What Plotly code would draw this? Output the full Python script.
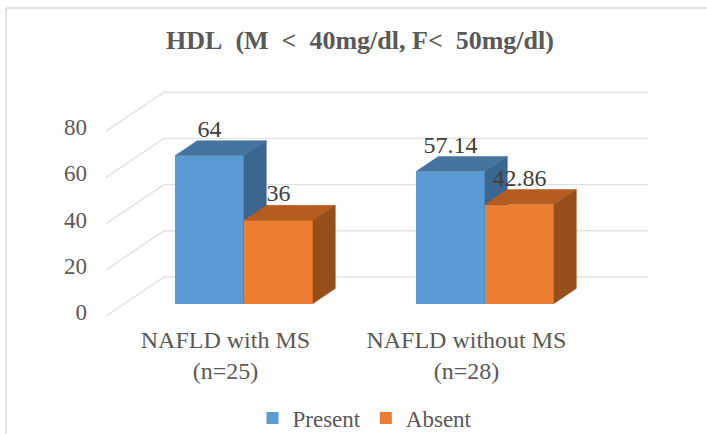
import plotly.graph_objects as go

categories = ["NAFLD with MS<br>(n=25)", "NAFLD without MS<br>(n=28)"]
present = [64, 57.14]
absent = [36, 42.86]
labels_present = ["64", "57.14"]
labels_absent = ["36", "42.86"]
y_ticks = [0, 20, 40, 60, 80]
title = "HDL  (M  <  40mg/dl, F<  50mg/dl)"

W, H = 707, 434
L, R, T, B = 106, 648, 85, 316          # plot area in page pixels
PX_Y = 2.31                             # pixels per value unit
PX_X = 241                              # pixels per category
WALL_DX, WALL_DY = 58 / PX_X, 39 / PX_Y # depth of the floor
FLOOR_FRONT = 0.32                      # bars start this far into the depth
FLOOR_BACK = 0.705
BAR_W = 69 / PX_X
x_range = [(L - 225.4) / PX_X, (R - 225.4) / PX_X]
y_range = [0, (B - T) / PX_Y]
GREY = "#595959"
FONT = "Liberation Serif"


def proj(x, v, d):
    return x + d * WALL_DX, v + d * WALL_DY


def poly(points, color, xa="x", ya="y"):
    xs = [p[0] for p in points] + [points[0][0]]
    ys = [p[1] for p in points] + [points[0][1]]
    return go.Scatter(x=xs, y=ys, mode="lines", fill="toself", fillcolor=color,
                      line=dict(color=color, width=0.5), showlegend=False,
                      hoverinfo="skip", xaxis=xa, yaxis=ya)


def box(cats, vals, side, name, front, top, sidec, xa, ya):
    base = proj(0, 0, FLOOR_FRONT)
    traces = [go.Bar(x=[c + base[0] + side * BAR_W / 2 for c in range(len(cats))],
                     y=vals, base=[base[1]] * len(vals), width=BAR_W, name=name,
                     marker=dict(color=front, line=dict(width=0)),
                     xaxis=xa, yaxis=ya, hoverinfo="y")]
    for i, v in enumerate(vals):
        xl = i + side * BAR_W / 2 - BAR_W / 2
        xr = xl + BAR_W
        traces.append(poly([proj(xl, v, FLOOR_FRONT), proj(xr, v, FLOOR_FRONT),
                            proj(xr, v, FLOOR_BACK), proj(xl, v, FLOOR_BACK)], top, xa, ya))
        traces.append(poly([proj(xr, 0, FLOOR_FRONT), proj(xr, v, FLOOR_FRONT),
                            proj(xr, v, FLOOR_BACK), proj(xr, 0, FLOOR_BACK)], sidec, xa, ya))
    return traces


fig = go.Figure()

# walls: floor/side diagonals and back-wall gridlines
for v in y_ticks:
    p0 = (x_range[0], v)
    p1 = proj(x_range[0], v, 1)
    p2 = (x_range[1], p1[1])
    fig.add_trace(go.Scatter(x=[p0[0], p1[0], p2[0]], y=[p0[1], p1[1], p2[1]], mode="lines",
                             line=dict(color="#E2E2E2", width=1.4), showlegend=False,
                             hoverinfo="skip", cliponaxis=False))

for t in box(categories, present, -1, "Present", "#5B9BD5", "#44749F", "#3A668F", "x2", "y2"):
    fig.add_trace(t)
for t in box(categories, absent, 1, "Absent", "#ED7D31", "#B55D20", "#974F19", "x3", "y3"):
    fig.add_trace(t)

# data labels sit above the top face of each box
base = proj(0, 0, FLOOR_FRONT)
LIFT = 25 / PX_Y
fig.add_trace(go.Scatter(
    x=[i + base[0] - BAR_W / 2 for i in range(2)] + [i + base[0] + BAR_W / 2 for i in range(2)],
    y=[v + base[1] + LIFT for v in present] + [v + base[1] + LIFT for v in absent],
    text=labels_present + labels_absent, mode="text", textposition="middle center",
    textfont=dict(family=FONT, size=24, color="#404040"), showlegend=False,
    hoverinfo="skip", xaxis="x3", yaxis="y3", cliponaxis=False))


def px(x):
    return (x - L) / (R - L)


def py(y):
    return (B - y) / (B - T)


fig.update_layout(
    width=W, height=H, autosize=False,
    margin=dict(l=L, r=W - R, t=T, b=H - B, pad=0),
    paper_bgcolor="white", plot_bgcolor="white",
    barmode="overlay", bargap=0,
    font=dict(family=FONT, color=GREY),
    title=dict(text="<b>" + title.replace("  ", "\u00a0\u00a0") + "</b>", x=360 / W, xanchor="center",
               y=1 - 40 / H, yanchor="middle",
               font=dict(family=FONT, size=26, color=GREY)),
    xaxis=dict(range=x_range, tickvals=[0, 1], ticktext=categories, showgrid=False, zeroline=False,
               showline=False, ticks="", ticklabelstandoff=7,
               tickfont=dict(family=FONT, size=24, color=GREY)),
    yaxis=dict(range=y_range, tickvals=y_ticks, showgrid=False, zeroline=False, showline=False,
               ticks="", ticklabelshift=-4, ticklabelstandoff=18,
               tickfont=dict(family=FONT, size=23, color=GREY)),
    xaxis2=dict(range=x_range, overlaying="x", visible=False),
    yaxis2=dict(range=y_range, overlaying="y", visible=False),
    xaxis3=dict(range=x_range, overlaying="x", visible=False),
    yaxis3=dict(range=y_range, overlaying="y", visible=False),
    legend=dict(orientation="h", x=365 / W, xanchor="center", y=1 - 418 / H, yanchor="middle",
                xref="container", yref="container", font=dict(family=FONT, size=23, color=GREY),
                itemwidth=30, traceorder="normal", bgcolor="rgba(0,0,0,0)"),
    shapes=[
        dict(type="line", xref="paper", yref="paper", x0=px(6), x1=px(6), y0=py(434), y1=py(8),
             line=dict(color="#D9D9D9", width=1.5)),
        dict(type="line", xref="paper", yref="paper", x0=px(6), x1=px(707), y0=py(8), y1=py(8),
             line=dict(color="#D9D9D9", width=1.5)),
    ],
)

fig.write_html("out.html", config={"displayModeBar": False},
               post_script="document.body.style.margin='0';document.body.style.overflow='hidden';")
